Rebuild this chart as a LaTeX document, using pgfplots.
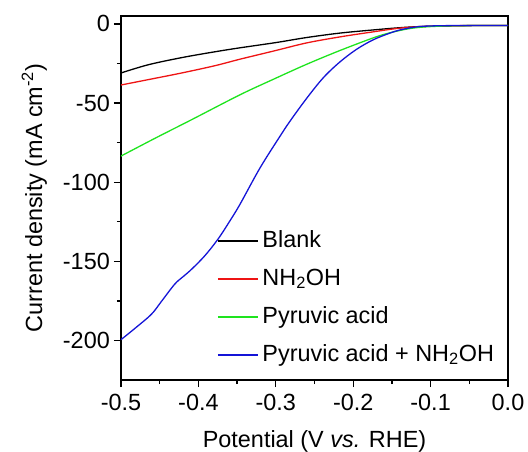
\documentclass[border=0pt]{standalone}
\usepackage{pgfplots}
\pgfplotsset{compat=1.18}
\usepackage{fontspec}
\setmainfont{Liberation Sans}
\definecolor{cblk}{RGB}{0,0,0}
\definecolor{cred}{RGB}{238,20,20}
\definecolor{cgrn}{RGB}{30,228,30}
\definecolor{cblu}{RGB}{20,20,215}
\begin{document}
\begin{tikzpicture}
\begin{axis}[
  name=ax, at={(0,0)}, anchor=south west,
  scale only axis,
  width=387bp, height=364bp,
  xmin=-0.5, xmax=0.0, ymin=-225, ymax=5,
  xtick={-0.5,-0.4,-0.3,-0.2,-0.1,0.0},
  ytick={-200,-150,-100,-50,0},
  minor xtick={-0.45,-0.35,-0.25,-0.15,-0.05},
  minor ytick={-175,-125,-75,-25},
  /pgf/number format/assume math mode=true,
  tick align=outside,
  tick pos=left,
  major tick length=7bp, minor tick length=4bp,
  axis line style={line width=1.3bp},
  every tick/.append style={line width=1.3bp, black},
  tick label style={font=\fontsize{23.5}{28}\selectfont},
  yticklabel style={inner xsep=4bp},
  xticklabel style={inner ysep=7bp, /pgf/number format/.cd,fixed,fixed zerofill,precision=1},
  xlabel={Potential (V \textit{vs.} RHE)},
  ylabel={Current density (mA cm\textsuperscript{-2})},
  xlabel style={font=\fontsize{23.5}{28}\selectfont, at={(axis description cs:0.5,-0.1868)}, anchor=base},
  ylabel style={font=\fontsize{23.5}{28}\selectfont, at={(axis description cs:-0.2041,0.5)}, anchor=base},
  legend style={draw=none, fill=none, inner sep=0pt,
    at={(axis description cs:0.248,0.415)}, anchor=north west,
    font=\fontsize{23.5}{28}\selectfont, row sep=14bp, column sep=3bp,
    nodes={inner sep=1bp, text height=17bp, text depth=5bp}},
  legend cell align=left,
  legend image code/.code={\draw[#1, line width=1.3bp] (0bp,0bp) -- (40bp,0bp);},
  every axis plot/.append style={line width=1.3bp, smooth, tension=0.55},
]
\addplot[cblk] coordinates {
(-0.5,-31) (-0.4647,-25.8) (-0.4216,-21.3) (-0.3786,-17.6) (-0.3463,-15.1) (-0.3,-11.8) (-0.2601,-8.6) (-0.2171,-5.8) (-0.174,-3.8) (-0.14,-2.4) (-0.11,-1.6) (-0.07,-1.2) (-0.03,-1.0) (0,-1.0)};
\addlegendentry{Blank}
\addplot[cred] coordinates {
(-0.5,-38.6) (-0.4647,-35.2) (-0.4216,-31) (-0.3786,-26.4) (-0.3463,-22.3) (-0.3,-16.8) (-0.2601,-12) (-0.2171,-8.2) (-0.174,-5.0) (-0.1438,-2.9) (-0.12,-1.9) (-0.09,-1.3) (-0.04,-1.0) (0,-1.0)};
\addlegendentry{NH\textsubscript{2}OH}
\addplot[cgrn] coordinates {
(-0.5,-83.5) (-0.455,-72) (-0.4087,-60.5) (-0.3463,-44.8) (-0.3032,-35) (-0.2601,-25.5) (-0.2171,-16.8) (-0.174,-8.8) (-0.1525,-5.6) (-0.13,-3.2) (-0.11,-2.0) (-0.08,-1.3) (-0.04,-1.0) (0,-1.0)};
\addlegendentry{Pyruvic acid}
\addplot[cblu] coordinates {
(-0.5,-199.5) (-0.4823,-192.5) (-0.4608,-183.5) (-0.448,-175.5) (-0.4307,-164.5) (-0.42,-159.8) (-0.4092,-155.2) (-0.3919,-146.6) (-0.3747,-136) (-0.36,-125) (-0.3463,-114) (-0.3204,-91) (-0.2946,-71) (-0.2817,-61.5) (-0.2601,-47) (-0.2386,-34) (-0.2171,-24) (-0.1955,-16) (-0.174,-10) (-0.1525,-5.8) (-0.1395,-3.8) (-0.12,-2.0) (-0.1,-1.3) (-0.06,-1.0) (0,-1.0)};
\addlegendentry{Pyruvic acid + NH\textsubscript{2}OH}
\end{axis}
\pgfresetboundingbox
\path[use as bounding box] ([shift={(-121bp,-72bp)}]ax.south west) rectangle ([shift={(20bp,16bp)}]ax.north east);
\end{tikzpicture}
\end{document}
